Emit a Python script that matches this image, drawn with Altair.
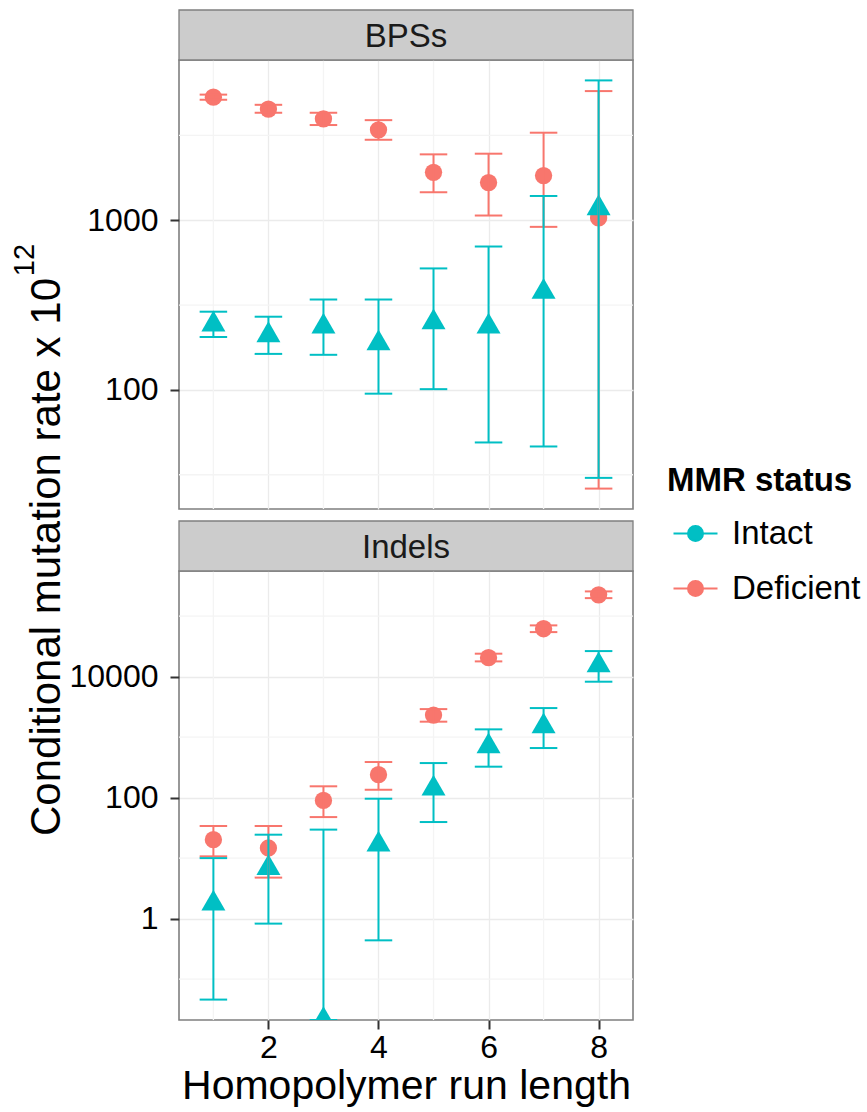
import altair as alt
import pandas as pd
import numpy as np

# ---------------- data ----------------
X = [1, 2, 3, 4, 5, 6, 7, 8]
STATUS = ["Intact", "Deficient"]
COLORS = ["#00BFC4", "#F8766D"]

# BPSs panel
BPS_DEF_RATE = [5310, 4520, 3960, 3410, 1916, 1667, 1833, 1032]
BPS_DEF_LO = [5130, 4300, 3640, 2980, 1462, 1066, 914, 26.2]
BPS_DEF_HI = [5500, 4790, 4300, 3890, 2445, 2467, 3280, 5770]
BPS_INT_RATE = [243, 210, 236, 188, 250, 236, 378, 1177]
BPS_INT_LO = [205, 163, 161, 95, 101, 49, 46.4, 30.3]
BPS_INT_HI = [289, 270, 341, 341, 520, 700, 1390, 6670]

# Indels panel
IND_DEF_RATE = [20.2, 14.7, 90, 240, 2317, 20600, 62100, 226000]
IND_DEF_LO = [10.7, 4.76, 47.7, 135, 1803, 17900, 54600, 199000]
IND_DEF_HI = [34, 34, 154, 388, 2910, 24000, 70500, 257000]
IND_INT_RATE = [1.77, 6.87, 0, 16.7, 141, 705, 1510, 15400]
IND_INT_LO = [0.0458, 0.826, 0, 0.437, 39.5, 325, 661, 8260]
IND_INT_HI = [10.0, 24.4, 29.6, 96, 373, 1346, 3027, 26500]

X_TICKS = [2, 4, 6, 8]
X_MINOR = [1, 3, 5, 7]
BPS_Y_TICKS = [100, 1000]
BPS_Y_MINOR = [31.62, 316.2, 3162]
IND_Y_TICKS = [1, 100, 10000]
IND_Y_MINOR = [0.1, 10, 1000, 100000]

FONT = "Liberation Sans"
W, H = 454, 449
GAP = 62
CAP = 0.25
TINY = 1e-12

TRI = "M0,-1.6L1.386,0.8L-1.386,0.8Z"
LEG_SYM = "M-0.8,0H0.8M0.273,0A0.273,0.273,0,1,1,-0.273,0A0.273,0.273,0,1,1,0.273,0Z"


def points_df(dr, dl, dh, ir, il, ih):
    rows = []
    for status, r, l, h in (("Deficient", dr, dl, dh), ("Intact", ir, il, ih)):
        for i, x in enumerate(X):
            rows.append(dict(x=x, status=status, rate=r[i], lo=l[i], hi=h[i]))
    return pd.DataFrame(rows)


def segs_df(pdf):
    rows = []
    for _, r in pdf.iterrows():
        lo = r.lo if r.lo > 0 else TINY
        rows.append(dict(status=r.status, xa=r.x, xb=r.x, ya=lo, yb=r.hi))
        rows.append(dict(status=r.status, xa=r.x - CAP, xb=r.x + CAP, ya=lo, yb=lo))
        rows.append(dict(status=r.status, xa=r.x - CAP, xb=r.x + CAP, ya=r.hi, yb=r.hi))
    return pd.DataFrame(rows)


def log_domain(pdf):
    v = np.concatenate([pdf.rate.values, pdf.lo.values, pdf.hi.values])
    v = v[v > 0]
    a, b = np.log10(v.min()), np.log10(v.max())
    pad = 0.05 * (b - a)
    return [float(10 ** (a - pad)), float(10 ** (b + pad))]


legend = alt.Legend(
    title="MMR status", orient="none", legendX=488, legendY=405,
    symbolType=LEG_SYM, symbolSize=3025, symbolStrokeWidth=2, symbolOpacity=1,
    titleFont=FONT, titleFontSize=33, titleFontWeight="bold", titleColor="black",
    titleLimit=400, labelLimit=400,
    labelFont=FONT, labelFontSize=33, labelColor="black", labelOffset=8,
    titlePadding=7, rowPadding=9, padding=0,
)
cscale = alt.Scale(domain=STATUS, range=COLORS)
fill = alt.Fill("status:N", scale=cscale, legend=legend)
stroke = alt.Stroke("status:N", scale=cscale, legend=legend)


def panel(pdf, label, yticks, yminor, bottom, extra=None):
    xscale = alt.Scale(domain=[0.375, 8.625], nice=False, zero=False)
    yscale = alt.Scale(type="log", domain=log_domain(pdf), nice=False, clamp=True)
    if bottom:
        xaxis = alt.Axis(values=X_TICKS, title="Homopolymer run length", grid=True,
                         gridColor="#EBEBEB", gridWidth=1.3, domain=False,
                         ticks=True, tickSize=9, tickWidth=2, tickColor="#333333",
                         labelFont=FONT, labelFontSize=32, labelColor="black", labelPadding=3,
                         titleFont=FONT, titleFontSize=41, titleFontWeight="normal",
                         titleColor="black", titleY=78, titleBaseline="alphabetic")
    else:
        xaxis = alt.Axis(values=X_TICKS, title=None, grid=True, gridColor="#EBEBEB",
                         gridWidth=1.3, labels=False, ticks=False, domain=False)
    yaxis = alt.Axis(values=yticks, format="d", title=None, grid=True, gridColor="#EBEBEB",
                     gridWidth=1.3, domain=False, ticks=True, tickSize=9, tickWidth=2,
                     tickColor="#333333", labelFont=FONT, labelFontSize=32,
                     labelColor="black", labelPadding=12)

    hmin = alt.Chart(pd.DataFrame({"g": yminor})).mark_rule(
        color="#F4F4F4", strokeWidth=1.3).encode(y=alt.Y("g:Q", scale=yscale, axis=yaxis))
    vmin = alt.Chart(pd.DataFrame({"g": X_MINOR})).mark_rule(
        color="#F4F4F4", strokeWidth=1.3).encode(x=alt.X("g:Q", scale=xscale, axis=xaxis))

    def pts(status, shp):
        return alt.Chart(pdf).transform_filter(
            alt.datum.status == status
        ).transform_calculate(
            rp=f"datum.rate > 0 ? datum.rate : {TINY}"
        ).mark_point(filled=True, opacity=1, size=300, strokeWidth=0, shape=shp,
                     clip=True).encode(
            x=alt.X("x:Q", scale=xscale, axis=xaxis),
            y=alt.Y("rp:Q", scale=yscale, axis=yaxis),
            fill=fill, stroke=stroke,
        )

    bars = alt.Chart(segs_df(pdf)).mark_rule(strokeWidth=2, clip=True).encode(
        x=alt.X("xa:Q", scale=xscale, axis=xaxis), x2="xb:Q",
        y=alt.Y("ya:Q", scale=yscale, axis=yaxis), y2="yb:Q",
        stroke=stroke,
    )
    sdf = pd.DataFrame({"label": [label]})
    strip = alt.Chart(sdf).mark_rect(fill="#CCCCCC", stroke="#7F7F7F", strokeWidth=1.3).encode(
        x=alt.value(0), x2=alt.value(W), y=alt.value(-50), y2=alt.value(0))
    stext = alt.Chart(sdf).mark_text(font=FONT, fontSize=33, color="#1A1A1A",
                                     baseline="alphabetic", align="center").encode(
        x=alt.value(W / 2), y=alt.value(-13), text="label:N")
    layers = [hmin, vmin, pts("Deficient", "circle"), pts("Intact", TRI), bars, strip, stext]
    if extra:
        layers += extra
    return alt.layer(*layers).properties(width=W, height=H)


YT = pd.DataFrame({"t": ["Conditional mutation rate x 10"], "s": ["12"]})
ytitle = alt.Chart(YT).mark_text(font=FONT, fontSize=42, color="black", angle=270,
                                 align="center", baseline="alphabetic").encode(
    x=alt.value(-119), y=alt.value(497), text="t:N")
ysup = alt.Chart(YT).mark_text(font=FONT, fontSize=29, color="black", angle=270,
                               align="center", baseline="alphabetic").encode(
    x=alt.value(-145), y=alt.value(200), text="s:N")

bps = points_df(BPS_DEF_RATE, BPS_DEF_LO, BPS_DEF_HI, BPS_INT_RATE, BPS_INT_LO, BPS_INT_HI)
ind = points_df(IND_DEF_RATE, IND_DEF_LO, IND_DEF_HI, IND_INT_RATE, IND_INT_LO, IND_INT_HI)

p1 = panel(bps, "BPSs", BPS_Y_TICKS, BPS_Y_MINOR, False, extra=[ytitle, ysup])
p2 = panel(ind, "Indels", IND_Y_TICKS, IND_Y_MINOR, True)

# With autosize "none" the concatenated view reports width W and height 0,
# so the padding alone fixes where the panels sit in the 867x1112 page.
chart = alt.vconcat(p1, p2, spacing=GAP, bounds="flush").resolve_scale(
    y="independent"
).properties(
    autosize=alt.AutoSizeParams(type="none"),
    padding={"left": 179, "top": 60, "right": 867 - 179 - W, "bottom": 1112 - 60},
    background="white",
).configure_view(stroke="#7F7F7F", strokeWidth=1.6)

chart.save("out.html", embed_options={"renderer": "svg", "actions": False})
